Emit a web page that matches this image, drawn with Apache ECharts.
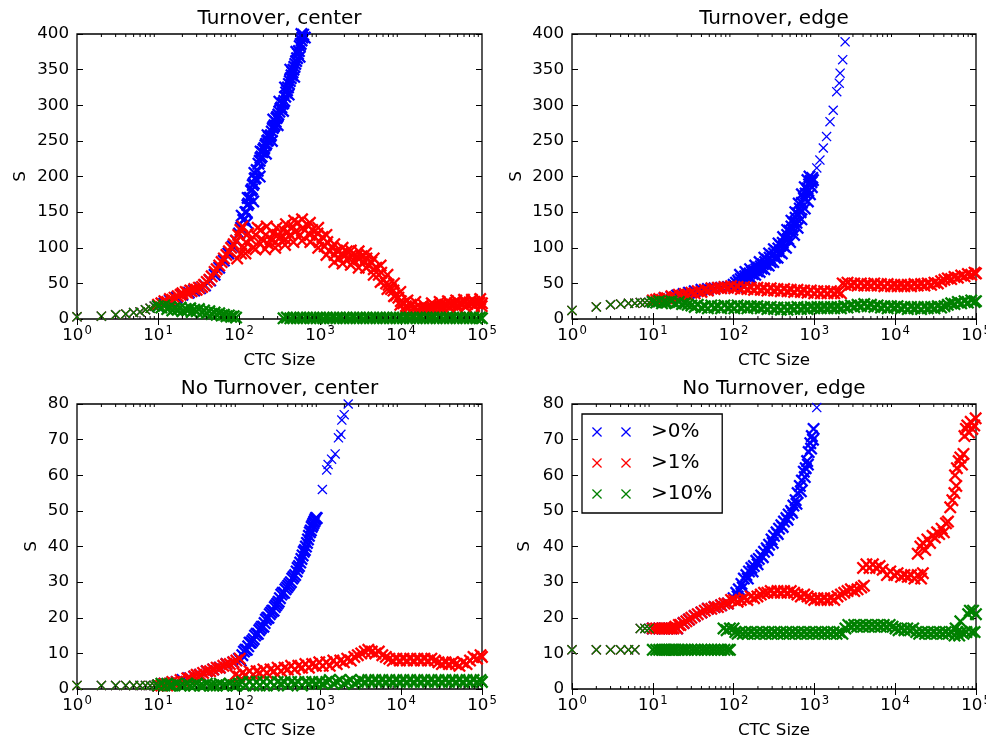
<!DOCTYPE html>
<html>
<head>
<meta charset="utf-8">
<title>S vs CTC Size</title>
<script src="https://cdn.jsdelivr.net/npm/echarts@6/dist/echarts.min.js"></script>
<style>
html, body { margin: 0; padding: 0; background: #fff; }
#chartmain { width: 986px; height: 744px; }
</style>
</head>
<body>
<div id="chartmain"></div>
<script>
// ---- data: [CTC size, S] ----
var seriesNames = ['>0%', '>1%', '>10%'];
var panelTitles = ['Turnover, center', 'Turnover, edge', 'No Turnover, center', 'No Turnover, edge'];
var xTickLabels = [1, 10, 100, 1000, 10000, 100000];

// Turnover, center
var tcSmall = [[1,3],[2,4],[3,6],[4,7],[5,9],[6,10],[7,13],[8,15],[9,18]];
var tcBlue = [[10,18],[12,22],[14,26],[17,30],[20,34],[24,37],[28,40],[33,43],[38,47],[44,54],[50,62],[57,72],[65,82],[74,92],[84,102],[92,110],
  [100,120],[106,128],[113,139],[120,150],[127,160],[134,170],[141,180],[148,188],[156,197],[165,209],[174,218],[184,226],[194,234],[205,240],
  [217,246],[229,251],[241,256],[254,263],[268,270],[283,277],[298,284],[315,291],[333,297],[353,303],[372,312],[392,321],[413,330],[435,338],
  [458,346],[482,354],[508,362],[535,372],[563,383],[592,391],[620,399],[650,408],
  [110,128],[117,140],[124,150],[131,162],[138,170],[145,182],[152,190],[160,198],[170,208],[180,222],[190,228],[200,238],[212,244],[223,250],
  [235,255],[248,258],[261,268],[275,272],[290,282],[306,287],[324,295],[343,302],[362,306],[382,318],[402,325],[424,334],[446,342],[470,350],
  [495,358],[521,366],[549,376],[577,386],[606,395],[635,404],
  [125,135],[150,165],[180,200],[215,232],[255,250],[300,272],[350,292],[410,315],[480,340],[560,368],[650,395],[700,405],
  [108,145],[128,170],[155,205],[185,235],[225,258],[265,280],[315,305],[370,325],[430,350],[510,375],[590,400]];
var tcRed = [[10,20],[11,22],[12,25],[13,24],[14,28],[15,27],[16,30],[17.5,32],[19,34],[20,36],[22,38],[23,37],[25,40],[26,39],[28,42],[30,41],
  [32,44],[35,45],[37,48],[40,52],[43,55],[46,60],[50,66],[53,70],[57,75],[61,80],[65,85],[70,90],[75,95],[80,100],[86,105],[92,110],[98,118],
  [104,125],[110,130],
  [95,85],[106,92],[115,100],[122,108],[140,112],[150,100],[161,118],[175,108],[185,125],[200,110],[213,118],[230,105],[245,112],[265,120],
  [282,108],[300,118],[324,115],[350,125],[373,112],[400,122],[429,118],[460,130],[493,122],[530,135],[567,118],[610,128],[652,125],[700,132],
  [750,118],[800,125],[862,115],[930,120],[991,108],[1070,115],[1140,102],[1230,108],[1310,95],[1410,100],[1510,90],[1620,96],[1730,85],
  [1860,92],[1990,88],[2140,95],[2290,85],[2460,90],[2640,82],[2830,88],[3030,84],[3250,88],[3490,80],[3740,85],[4010,75],[4300,80],
  [4610,70],[4950,72],[5310,62],[5700,65],[6100,55],[6550,50],[7020,48],[7530,42],[8070,40],[8660,33],[9280,30],[9950,25],[10700,22],
  [11500,18],[12300,16],[13200,20],[14100,14],[15100,16],[16200,13],[17400,15],[18700,13],[20000,14],[21500,15],[23000,16],[24700,16],
  [26500,18],[28400,17],[30400,19],[32600,18],[35000,20],[37500,19],[40200,21],[43200,20],[46300,22],[49600,20],[53200,22],[57100,21],
  [61200,23],[65700,21],[70400,23],[75500,22],[81000,24],[86800,22],[93100,23],[99800,22],
  [130,120],[170,128],[220,130],[290,128],[380,133],[480,138],[600,140],[750,135],[950,128],[1200,118],[1500,105],[1900,100],[2400,96],
  [3000,95],[3700,92],[4600,85],[5600,75],[6800,62],[8200,50],[9800,38],
  [120,92],[160,98],[210,98],[280,100],[370,104],[470,108],[600,110],[760,108],[950,100],[1200,90],[1500,80],[1900,78],[2400,76],[3000,72],
  [3700,72],[4600,62],[5600,52],[6800,42],[8200,32],[9800,20],[11000,12],[13000,10],[16000,9],[20000,10],[25000,12],[32000,14],[40000,16],
  [50000,16],[63000,17],[80000,18],[99000,18],
  [12000,26],[15000,24],[19000,20],[24000,22],[30000,24],[38000,25],[48000,26],[60000,27],[75000,27],[95000,28]];
var tcGreen = [[10,18],[11,16],[12,19],[13,14],[14,17],[15,12],[16,15],[17.5,13],[19,16],[20,11],[22,14],[23,12],[25,15],[26,10],[28,13],
  [30,11],[32,14],[35,9],[37,12],[40,8],[43,11],[46,7],[50,9],[53,6],[57,8],[61,5],[65,6],[70,4],[75,5],[80,3],[86,4],[92,2],
  [355,1],[390,2],[430,1],[470,2],[520,1],[570,2],[625,1],[690,2],[760,1],[830,2],[910,1],[1000,2],[1100,1],[1210,2],[1330,1],[1460,2],
  [1600,1],[1760,2],[1940,1],[2130,2],[2340,1],[2580,2],[2830,1],[3110,2],[3420,1],[3760,2],[4130,1],[4540,2],[4990,1],[5490,2],[6030,1],
  [6630,2],[7290,1],[8010,2],[8810,1],[9680,2],[10600,1],[11700,2],[12900,1],[14100,2],[15600,1],[17100,2],[18800,1],[20700,2],[22700,1],
  [25000,2],[27500,1],[30200,2],[33200,1],[36500,2],[40100,1],[44100,2],[48500,1],[53300,2],[58600,1],[64400,2],[70800,1],[77800,2],
  [85500,1],[94000,2],[99800,1]];

// Turnover, edge
var teSmall = [[1,12],[2,17],[3,20],[4,21],[5,22],[6,22],[7,23],[8,23],[9,23]];
var teBlue = [[10,25],[12,27],[14,29],[17,31],[20,33],[24,35],[28,37],[33,39],[40,41],[48,42],[58,43],[70,44],[85,45],
  [100,48],[107,51],[114,54],[122,56],[130,58],[139,60],[148,62],[158,64],[168,66],[179,68],[191,70],[204,72],[217,74],[231,77],[246,80],
  [262,83],[279,86],[297,89],[316,92],[337,95],[358,99],[381,103],[406,107],[432,112],[460,118],[490,124],[520,130],[550,135],[585,142],
  [620,148],[660,155],[700,163],[740,170],[780,176],[820,183],[860,189],[900,194],[940,198],
  [104,46],[118,51],[134,55],[152,59],[172,63],[196,67],[222,71],[252,76],[287,80],[326,86],[370,94],[420,102],[475,112],[535,125],
  [600,135],[675,150],[760,168],[840,180],[920,192],
  [110,45],[126,50],[143,54],[162,58],[185,62],[210,66],[240,70],[272,75],[310,80],[350,86],[395,92],[445,100],[500,108],[560,118],
  [620,128],[690,140],[760,155],[830,165],[880,175],[930,185],[960,195],
  [120,62],[140,66],[160,70],[185,75],[210,80],[240,86],[275,92],[315,98],[360,106],[410,115],[460,125],[520,138],[580,150],[640,162],
  [700,175],[760,185],[820,195],[870,200]];
var teBlueSparse = [[1070,212],[1170,223],[1290,240],[1415,256],[1560,277],[1710,293],[1890,319],[2030,331],[2080,345],[2240,364],[2400,389]];
var teRed = [[10,26],[11,27],[12,28],[13,27],[14,30],[15,29],[17,32],[19,31],[21,34],[23,33],[25,35],[27,34],[30,37],[33,36],[36,39],[40,38],
  [44,41],[48,40],[53,43],[58,42],[64,44],[70,43],[77,45],[85,44],[93,46],[102,43],[112,45],[123,42],[135,45],[148,42],[163,44],[179,41],
  [197,44],[217,41],[238,43],[262,40],[288,43],[317,40],[349,42],[384,39],[422,42],[464,39],[510,41],[561,38],[617,41],[679,38],[747,40],
  [822,37],[904,40],[995,36],[1090,39],[1200,36],[1320,39],[1450,36],[1600,39],[1760,36],[1930,38],[2130,36],
  [2240,50],[2400,48],[2570,51],[2830,48],[3110,50],[3420,47],[3760,50],[4140,47],[4550,49],[5010,47],[5510,50],[6060,47],[6660,49],
  [7330,46],[8060,49],[8870,46],[9750,48],[10700,46],[11800,48],[13000,46],[14300,48],[15700,46],[17300,49],[19000,47],[20900,49],
  [23000,47],[25300,50],[27800,48],[30600,51],[33700,50],[37000,53],[40700,55],[44800,57],[49300,56],[54200,59],[59600,58],[65600,61],
  [72100,60],[79300,63],[87300,62],[96000,65],[99800,64]];
var teGreen = [[10,24],[11,23],[12,25],[13,22],[14,24],[15,23],[17,25],[19,22],[21,24],[23,21],[25,22],[27,20],[30,19],[33,17],[36,20],
  [40,16],[44,18],[48,15],[53,19],[58,16],[64,18],[70,15],[77,19],[85,16],[93,18],[102,15],[112,19],[123,16],[135,18],[148,15],[163,18],
  [179,16],[197,18],[217,15],[238,17],[262,14],[288,17],[317,14],[349,16],[384,13],[422,16],[464,13],[510,16],[561,14],[617,17],[679,14],
  [747,16],[822,14],[904,17],[995,15],[1090,17],[1200,15],[1320,17],[1450,15],[1600,17],[1760,15],[1930,17],[2130,15],[2340,18],
  [2570,16],[2830,19],[3110,17],[3420,20],[3760,18],[4140,21],[4550,18],[5010,20],[5510,17],[6060,19],[6660,16],[7330,18],[8060,15],
  [8870,18],[9750,16],[10700,18],[11800,15],[13000,17],[14300,14],[15700,17],[17300,15],[19000,17],[20900,14],[23000,17],[25300,15],
  [27800,17],[30600,15],[33700,18],[37000,16],[40700,18],[44800,20],[49300,22],[54200,21],[59600,24],[65600,22],[72100,25],[79300,23],
  [87300,26],[96000,24],[99800,25]];

// No Turnover, center
var ncSmall = [[1,1],[2,1],[3,1],[4,1],[5,1],[6,1],[7,1],[8,1],[9,1]];
var ncBlue = [[10,1],[12,1.5],[14,1.5],[17,2],[20,2.5],[24,3],[28,3.5],[33,4],[40,5],[48,5.5],[58,6],[70,7],[85,7.5],
  [100,8.5],[110,9.5],[120,11],[130,12],[140,13],[152,14],[165,15.5],[178,16.5],[192,17.5],[207,18.5],[223,20],[240,21],[258,22],[277,23],
  [298,24],[320,25.5],[347,27],[375,28],[405,29],[437,30],[472,31.5],[515,33],[550,34.5],[590,36.5],[630,38.5],[670,40],[710,42],[750,44],
  [790,45.5],[830,46.5],[870,47.5],[910,48],
  [105,8],[115,10.5],[125,11],[135,13],[146,13.5],[158,15],[171,15.5],[185,17],[200,17.5],[215,19.5],[231,20],[249,21.5],[267,22],
  [287,23.5],[309,24.5],[333,26.5],[360,27],[390,28.5],[420,29.5],[455,31],[493,32],[530,34],[570,35.5],[610,37.5],[650,39],[690,41],
  [730,43],[770,44.5],[810,46],[850,47],[890,48]];
var ncBlueSparse = [[1070,56],[1210,61.5],[1260,63],[1390,64.5],[1540,66],[1690,70.5],[1810,71.5],[1860,75.5],[1990,77],[2230,80]];
var ncRed = [[10,1],[11,1],[12,1.5],[13,1],[14,1.5],[15,2],[17,2],[19,2.5],[21,2],[23,3],[25,3],[28,3.5],[30,4],[33,4],[36,4.5],[40,5],
  [44,5],[48,5.5],[53,6],[58,6],[64,6.5],[70,7],[77,7],[85,7.5],[93,8],[102,8.5],
  [90,4],[100,3.5],[110,4.5],[120,4],[135,5],[150,4],[165,5],[180,4.5],[200,5.5],[220,4.5],[245,5.5],[270,5],[300,6],[330,5],[365,6],
  [400,5.5],[440,6.5],[490,5.5],[540,6.5],[600,6],[660,7],[730,6],[800,7],[890,6.5],[980,7.5],[1080,6.5],[1200,7.5],[1320,6.5],[1460,8],
  [1610,7],[1780,8],[1970,7.5],[2170,8.5],[2400,8],[2650,9],[2930,9.5],[3230,10],[3570,10.5],[3950,11],[4360,10.5],[4820,10],[5320,10.5],
  [5880,9.5],[6500,9],[7180,8.5],[7930,8],[8760,8.5],[9680,8],[10700,8.5],[11800,8],[13000,8.5],[14400,8],[15900,8.5],[17600,8],
  [19400,8.5],[21500,8],[23700,8.5],[26200,8],[29000,7.5],[32000,7],[35400,7.5],[39100,7],[43200,7.5],[47700,7],[52700,6.5],[58300,7.5],
  [64400,7],[71100,8],[78600,9],[86800,8.5],[95900,9.5],[99800,9]];
var ncGreen = [[10,1],[11,1.5],[12,1],[13,1.5],[14,1],[15,1],[17,1.5],[19,1],[21,1],[23,1.5],[25,1],[28,1],[30,1.5],[33,1],[36,1],[40,1.5],
  [44,1],[48,1],[53,1],[58,1.5],[64,1],[70,1],[77,1.5],[85,1],[93,1],[100,1.5],[110,2],[120,1],[135,2],[150,1],[165,2],[180,1],[200,2],
  [220,1],[245,2],[270,1],[300,2],[330,1.5],[365,2],[400,1],[440,2],[490,1.5],[540,2],[600,1],[660,2],[730,1.5],[800,2],[890,1.5],[980,2],
  [1080,1.5],[1200,2],[1320,2.5],[1460,1.5],[1610,2],[1780,2.5],[1970,1.5],[2170,2],[2400,2.5],[2650,1.5],[2930,2],[3230,2.5],[3570,2],
  [3950,2.5],[4360,2],[4820,2.5],[5320,2],[5880,2.5],[6500,2],[7180,2.5],[7930,2],[8760,2.5],[9680,2],[10700,2.5],[11800,2],[13000,2.5],
  [14400,2],[15900,2.5],[17600,2],[19400,2.5],[21500,2],[23700,2.5],[26200,2],[29000,2.5],[32000,2],[35400,2.5],[39100,2],[43200,2.5],
  [47700,2],[52700,2.5],[58300,2],[64400,2.5],[71100,2],[78600,2.5],[86800,2],[95900,2.5],[99800,2]];

// No Turnover, edge
var neSmall = [[1,11],[2,11],[3,11],[4,11],[5,11],[6,11],[7,17],[8,17],[9,17]];
var neBlue = [[10,17],[12,17],[14,17],[17,17],[20,17],[24,18.5],[28,19.5],[33,20.5],[40,21.5],[48,22.5],[58,23],[70,23.5],[85,24],
  [100,25.5],[108,27],[116,28],[125,29.5],[134,31],[144,32],[155,33],[166,34],[178,34.5],[191,36],[205,36.5],[220,37.5],[238,38.5],
  [257,39.5],[275,40.5],[295,42],[316,43],[340,44],[365,45],[390,46],[420,47],[450,48],[480,49],[515,50],[550,51.5],[585,53],[620,55],
  [660,57],[700,58.5],[740,61],[780,62],[813,64],[850,66.5],[890,69],[930,71],[977,73],
  [112,26],[130,28.5],[150,31],[172,33],[198,35],[230,37],[265,39],[305,41],[352,43.5],[405,45.5],[465,47.5],[530,49.5],[600,52],
  [680,55.5],[760,59.5],[830,63],[910,67.5],[960,70]];
var neBlueSparse = [[1070,79]];
var neRed = [[10,17],[11,17],[12,17],[13,17],[14,17],[15,17],[16,17],[17,17],[18,17],[19,17.5],[20,17],[21,18],[22,18],[24,18.5],[26,19],
  [28,19.5],[30,20],[33,20.5],[36,21],[40,21.5],[44,22],[48,22.5],[53,22.5],[58,23],[64,23],[70,23.5],[77,24],[85,24],[93,25],[102,25],
  [112,24.5],[123,25],[135,25.5],[148,25],[163,26],[179,25.5],[197,26],[217,26.5],[238,27],[262,27],[288,27.5],[317,27],[349,27.5],
  [384,27],[422,27.5],[464,27],[510,27.5],[561,27],[617,26.5],[679,26],[747,26.5],[822,26],[904,25.5],[995,25],[1090,25.5],[1200,25],
  [1320,25.5],[1450,25],[1600,25.5],[1760,25],[1930,26],[2130,26.5],[2340,27],[2570,27.5],[2830,28],[3110,27.5],[3420,28],[3800,28.5],
  [4100,29],[4000,34],[4400,35],[4800,34],[5300,35],[5800,34],[6400,34.5],[7000,33.5],[7900,32],[8700,33],[9750,32],[10700,32.5],
  [11800,31.5],[13000,32],[14300,31.5],[15700,32],[17300,31],[19000,32],[20900,31],[22000,32.5],
  [19000,38],[20500,40],[22000,41],[23500,39],[25000,42],[27000,41],[29000,43],[31000,42.5],[33000,44],[35000,43.5],[37500,45],
  [40000,44],[42500,46.5],[45000,47],[48000,51],[51000,53],[54000,55],[57000,57],[55000,60],[58000,62],[61000,64],[64000,65],[67000,63],
  [70000,66],[72000,71],[75000,73],[78000,74],[82000,72],[86000,75],[90000,73],[95000,74],[99000,76]];
var neGreen = [[10,11],[11,11],[12,11],[13,11],[14,11],[15,11],[16,11],[17,11],[18,11],[19,11],[21,11],[23,11],[25,11],[27,11],[30,11],
  [33,11],[36,11],[40,11],[44,11],[48,11],[53,11],[58,11],[64,11],[70,11],[77,11],[85,11],[90,11],
  [75,17],[82,16.5],[90,17],[100,17],[105,16],[112,15.5],[120,16],[130,15.5],[140,16],[150,15.5],[165,16],[180,15.5],[195,16],[212,15.5],
  [230,16],[250,15.5],[272,16],[296,15.5],[322,16],[350,15.5],[381,16],[414,15.5],[450,16],[490,15.5],[533,16],[580,15.5],[630,16],
  [685,15.5],[745,16],[810,15.5],[880,16],[960,15.5],[1040,16],[1130,15.5],[1230,16],[1340,15.5],[1460,16],[1590,15.5],[1730,16],
  [1880,15.5],[2040,16],[2220,15.5],[2420,17],[2630,18],[2860,17.5],[3110,18],[3380,17.5],[3680,18],[4000,17.5],[4350,18],[4730,17.5],
  [5150,18],[5600,17.5],[6090,18],[6630,17.5],[7210,18],[7840,17.5],[8530,18],[9280,17.5],[10100,17],[11000,16.5],[11900,17],[13000,16.5],
  [14100,17],[15300,16.5],[16700,17],[18200,16],[19800,15.5],[21500,16],[23400,15.5],[25400,16],[27700,15.5],[30100,16],[32700,15.5],
  [35600,16],[38700,15.5],[42100,16],[45800,15.5],[49800,16],[54200,15],[56000,17],[58900,16],[62000,15],[64000,19],[66000,16],
  [70000,15.5],[76000,16],[80000,21],[84000,22],[88000,16],[92000,22],[96000,16],[99800,21]];

var colors = ['#0000ff', '#ff0000', '#008000'];
var FONT = 'DejaVu Sans';
// thin cross for isolated points, heavier cross for dense bands
var X_MARK = 'path://M0,1.8L1.8,0L10,8.2L18.2,0L20,1.8L11.8,10L20,18.2L18.2,20L10,11.8L1.8,20L0,18.2L8.2,10Z';
var X_BOLD = 'path://M0,2.5L2.5,0L10,7.5L17.5,0L20,2.5L12.5,10L20,17.5L17.5,20L10,12.5L2.5,20L0,17.5L7.5,10Z';
var X_PAIR = 'path://M0,1.8L1.8,0L10,8.2L18.2,0L20,1.8L11.8,10L20,18.2L18.2,20L10,11.8L1.8,20L0,18.2L8.2,10Z' +
  'M58,1.8L59.8,0L68,8.2L76.2,0L78,1.8L69.8,10L78,18.2L76.2,20L68,11.8L59.8,20L58,18.2L66.2,10Z';

window.onload = function () {
    var panels = [
        { left: 77,  top: 34,  width: 405, yMax: 400, yStep: 50, nameGap: 48, small: tcSmall, dense: [tcBlue, tcRed, tcGreen], sparse: [[], [], []] },
        { left: 572, top: 34,  width: 404, yMax: 400, yStep: 50, nameGap: 47, small: teSmall, dense: [teBlue, teRed, teGreen], sparse: [teBlueSparse, [], []] },
        { left: 77,  top: 404, width: 405, yMax: 80,  yStep: 10, nameGap: 37, small: ncSmall, dense: [ncBlue, ncRed, ncGreen], sparse: [ncBlueSparse, [], []] },
        { left: 572, top: 404, width: 404, yMax: 80,  yStep: 10, nameGap: 39, small: neSmall, dense: [neBlue, neRed, neGreen], sparse: [neBlueSparse, [], []] }
    ];

    // minor ticks 2..9 x 10^k (matplotlib style)
    var minorTicks = [];
    for (var e = 0; e < 5; e++) {
        for (var k = 2; k < 10; k++) minorTicks.push([k * Math.pow(10, e), 0]);
    }

    var tickStyle = { color: '#000', width: 1 };
    var grids = [], xAxes = [], yAxes = [], series = [], titles = [];

    panels.forEach(function (p, i) {
        grids.push({ left: p.left, top: p.top, width: p.width, height: 285, show: true,
            borderColor: '#000', borderWidth: 1.3, backgroundColor: '#fff', outerBoundsMode: 'none' });

        titles.push({ text: panelTitles[i], left: p.left + p.width / 2, top: p.top - 25, textAlign: 'center', padding: 0,
            textStyle: { fontFamily: FONT, fontSize: 20, fontWeight: 'normal', color: '#000' } });

        var logBase = { type: 'log', logBase: 10, min: xTickLabels[0], max: xTickLabels[xTickLabels.length - 1], gridIndex: i,
            splitLine: { show: false }, axisLine: { show: false } };
        xAxes.push(Object.assign({}, logBase, {
            position: 'bottom',
            axisTick: { inside: true, length: 6, lineStyle: tickStyle },
            axisLabel: {
                margin: 6, showMinLabel: true, showMaxLabel: true,
                formatter: function (v) { return '{b|10}{s|' + Math.round(Math.log10(v)) + '}'; },
                rich: {
                    b: { fontFamily: FONT, fontSize: 16.7, color: '#000' },
                    s: { fontFamily: FONT, fontSize: 11.7, color: '#000', padding: [0, 0, 10, 1] }
                }
            },
            name: 'CTC Size', nameLocation: 'middle', nameGap: 33,
            nameTextStyle: { fontFamily: FONT, fontSize: 16.7, color: '#000' }
        }));
        xAxes.push(Object.assign({}, logBase, {
            position: 'top',
            axisTick: { inside: true, length: 6, lineStyle: tickStyle },
            axisLabel: { show: false }
        }));

        var yBase = { type: 'value', min: 0, max: p.yMax, interval: p.yStep, gridIndex: i,
            splitLine: { show: false }, axisLine: { show: false },
            axisTick: { inside: true, length: 6, lineStyle: tickStyle } };
        yAxes.push(Object.assign({}, yBase, {
            position: 'left',
            axisLabel: { margin: 8, fontFamily: FONT, fontSize: 16.7, color: '#000', showMinLabel: true, showMaxLabel: true },
            name: 'S', nameLocation: 'middle', nameGap: p.nameGap,
            nameTextStyle: { fontFamily: FONT, fontSize: 16.7, color: '#000' }
        }));
        yAxes.push(Object.assign({}, yBase, { position: 'right', axisLabel: { show: false } }));

        // minor x ticks on bottom and top edges
        series.push({
            type: 'custom', xAxisIndex: 2 * i, yAxisIndex: 2 * i, data: minorTicks, silent: true, clip: false, z: 10,
            encode: { x: 0, y: 1 },
            renderItem: function (params, api) {
                var pt = api.coord([api.value(0), 0]);
                var cs = params.coordSys;
                return { type: 'group', children: [
                    { type: 'line', shape: { x1: pt[0], y1: cs.y + cs.height, x2: pt[0], y2: cs.y + cs.height - 3 }, style: { stroke: '#000', lineWidth: 1 } },
                    { type: 'line', shape: { x1: pt[0], y1: cs.y, x2: pt[0], y2: cs.y + 3 }, style: { stroke: '#000', lineWidth: 1 } }
                ] };
            }
        });

        for (var s = 0; s < 3; s++) {
            // dense bands: many overlapping points
            series.push({
                name: seriesNames[s], type: 'scatter', xAxisIndex: 2 * i, yAxisIndex: 2 * i,
                data: p.dense[s], symbol: X_BOLD, symbolSize: 13, clip: true, z: 2 + 2 * s,
                itemStyle: { color: colors[s], opacity: 1 }, emphasis: { disabled: true }
            });
            // isolated points
            series.push({
                name: seriesNames[s], type: 'scatter', xAxisIndex: 2 * i, yAxisIndex: 2 * i,
                data: p.small.concat(p.sparse[s]), symbol: X_MARK, symbolSize: 10, clip: true, z: 3 + 2 * s,
                itemStyle: { color: colors[s], opacity: 1 }, emphasis: { disabled: true }
            });
        }
    });

    var option = {
        animation: false,
        backgroundColor: '#fff',
        textStyle: { fontFamily: FONT },
        title: titles,
        legend: {
            data: seriesNames, orient: 'vertical', left: 582, top: 414, selectedMode: false,
            icon: X_PAIR, itemWidth: 39, itemHeight: 10, itemGap: 11,
            padding: [8, 10, 9, 10], borderColor: '#000', borderWidth: 1.3, backgroundColor: '#fff',
            textStyle: { fontFamily: FONT, fontSize: 20, color: '#000', padding: [0, 0, 0, 15] }
        },
        grid: grids,
        xAxis: xAxes,
        yAxis: yAxes,
        series: series
    };

    var myChart = echarts.init(document.getElementById('chartmain'));
    myChart.setOption(option);
};
</script>
</body>
</html>
